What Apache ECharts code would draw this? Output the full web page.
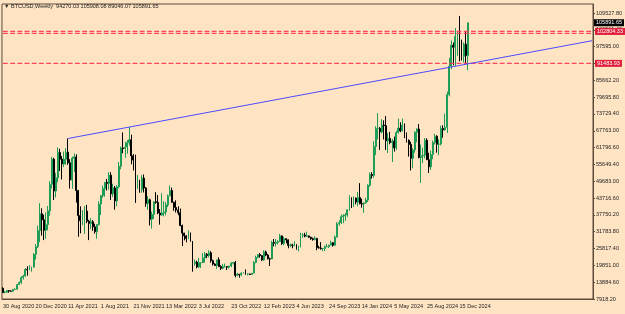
<!DOCTYPE html>
<html>
<head>
<meta charset="utf-8">
<script src="https://cdn.jsdelivr.net/npm/echarts@6.0.0/dist/echarts.min.js"></script>
<style>
    html, body { margin: 0; padding: 0; background: #ffe4c4; }
    #chart { width: 625px; height: 314px; }
</style>
</head>
<body>
<div id="chart"></div>
<script>
const symbolName = 'BTCUSD,Weekly';
const firstWeek = '2020-08-30';   // sunday of the first weekly bar
const shiftWeeks = 61;            // empty space right of the last bar

// weekly OHLC, 30 Aug 2020 .. 12 Jan 2025
const open = [
    11700,10250,10330,10930,10730,10660,11290,11360,13030,13760,15480,16050,18400,18200,19150,19250,23750,26450,
    32200,38150,36000,32300,34300,39200,48600,57500,46200,50900,59900,57500,55800,57500,60000,56200,50100,57800,58300,46400,37500,35700,35800,39100,35500,34700,35300,33500,31800,34300,41600,44600,47100,49300,48900,51800,45200,47300,42700,47700,55000,61500,61300,61800,63300,64400,58700,57200,49400,50100,46700,50800,
    47300,41800,43100,36200,37900,42400,42200,38400,37700,38400,38800,41300,44500,46400,42200,40400,39500,38500,34000,31300,30300,29400,29900,28400,20500,21000,19300,20800,20800,22500,23800,23300,24300,21500,20300,19800,21800,19400,18800,19400,19400,19200,19600,20600,20900,16300,16700,16500,17100,17100,16800,16800,
    16600,17100,20900,22700,23700,23300,21800,24600,23500,22200,22100,28000,27700,28000,28300,30300,27600,29300,28900,26900,27100,26900,27100,25900,26300,30500,30600,30200,30300,29800,29300,29000,29400,26100,26000,25800,25800,26500,26500,27000,27900,27000,29900,34500,35000,37100,37400,37700,39500,43800,41900,43700,42300,
    43900,41700,41600,42000,43000,48300,52100,51700,62000,68400,68400,67200,69600,69400,64000,64900,63400,63900,61500,66900,68500,67500,69600,66200,64200,62700,57800,60800,67100,68200,58100,58700,58900,64200,57300,54800,59200,63400,65600,62800,62900,68400,67900,68800,80400,90500,97900,97200,101000,101500,95200,94000,98300,94270.03
];
const high = [
    12090,10800,11100,10990,10960,11500,11720,13200,14100,15960,16480,18900,19500,19900,19400,24200,27400,34000,
    41900,40100,37800,38600,40900,49700,58300,58000,52600,61700,61200,58600,60200,61400,64850,57500,58400,59500,59200,46600,40800,39400,40900,41300,36000,36600,35900,34600,34500,42600,44800,48100,49400,50500,52900,52900,48800,48000,48300,56500,62000,67000,63700,64300,69000,66200,59300,59100,51900,50200,51900,52100,
    47600,44400,43500,38900,42500,45800,44800,39800,45400,42600,42300,45000,48200,47400,42400,42900,40800,40000,34300,31400,30600,32300,31500,28500,21900,21500,22500,21000,24200,24600,24200,25200,24900,21900,20600,21800,22700,19900,20300,20500,19600,19700,21000,21000,21400,17200,16800,17400,17400,18400,17000,16900,
    17200,21400,23300,23800,24200,23400,25200,25100,23900,22600,28500,29200,29200,28800,31000,30500,30000,29500,29000,27600,27500,28400,27400,26800,31400,31300,31400,31800,30400,30000,29700,30200,29600,26800,28100,26000,26900,27500,27200,28600,28000,30400,35200,35900,37900,38000,38400,39800,44700,44000,44300,43900,45900,
    49000,43500,42200,43800,48600,52800,52900,63900,69200,73800,68900,71700,71300,72800,66800,67200,64700,65500,67600,71900,70600,71900,70200,67000,64500,63700,61400,67400,68400,70000,62700,61600,65000,64900,59800,60600,64100,66500,66000,64500,69400,69500,73600,81500,93400,99600,98900,104000,102500,108300,99900,98900,102700,105908.08
];
const low = [
    10000,9880,10200,10140,10500,10530,11200,11350,12960,13200,14800,15800,16200,18100,17600,19000,21900,26000,
    28100,30400,28800,29300,32300,37400,47100,43000,43900,49300,53300,50300,54700,55500,55500,47100,47000,52900,42100,30000,31200,34100,31000,34800,28800,32700,32100,31100,29300,34000,37700,43800,44200,46400,46700,43000,44100,39600,40800,47200,53900,59600,58000,59400,62300,55700,53500,42000,47000,45600,45600,45700,
    40600,39600,34000,32900,36300,41700,38000,34300,37500,37200,37600,40500,44400,42100,39200,38600,37600,33700,26700,28700,28000,29300,28200,17600,19700,18800,18900,18900,20700,20800,22400,22700,20800,19800,19600,18600,19300,18200,18500,19100,18200,18700,19200,20100,15600,16000,15500,16000,16900,16500,16300,16400,
    16500,17100,20600,22300,22600,21400,21400,23100,21900,19600,22000,26600,26500,27300,28200,27100,26900,27700,25900,26300,25900,26600,25400,24800,26200,29600,29800,29900,29600,28900,28600,28700,25200,25800,25400,24900,24900,26300,26000,26900,26500,26800,29700,33900,34500,34800,35600,37100,39200,40200,40600,41500,40800,
    41500,40300,38500,41800,42300,47700,50600,50900,59000,64500,60800,66600,64500,60800,59700,62800,56500,60200,60800,66600,67100,67400,65000,63400,58400,53500,54300,59800,63500,57800,49100,56100,57800,57200,52600,53700,57500,62700,59800,58900,62400,65100,67600,66800,79800,89400,90800,90500,94200,92200,92500,91800,91200,89046.07
];
const close = [
    10250,10330,10930,10730,10660,11290,11360,13030,13760,15480,16050,18400,18200,19150,19250,23750,26450,32200,
    38150,36000,32300,34300,39200,48600,57500,46200,50900,59900,57500,55800,57500,60000,56200,50100,57800,58300,46400,37500,35700,35800,39100,35500,34700,35300,33500,31800,34300,41600,44600,47100,49300,48900,51800,45200,47300,42700,47700,55000,61500,61300,61800,63300,64400,58700,57200,49400,50100,46700,50800,47300,
    41800,43100,36200,37900,42400,42200,38400,37700,38400,38800,41300,44500,46400,42200,40400,39500,38500,34000,31300,30300,29400,29900,28400,20500,21000,19300,20800,20800,22500,23800,23300,24300,21500,20300,19800,21800,19400,18800,19400,19400,19200,19600,20600,20900,16300,16700,16500,17100,17100,16800,16800,16600,
    17100,20900,22700,23700,23300,21800,24600,23500,22200,22100,28000,27700,28000,28300,30300,27600,29300,28900,26900,27100,26900,27100,25900,26300,30500,30600,30200,30300,29800,29300,29000,29400,26100,26000,25800,25800,26500,26500,27000,27900,27000,29900,34500,35000,37100,37400,37700,39500,43800,41900,43700,42300,43900,
    41700,41600,42000,43000,48300,52100,51700,62000,68400,68400,67200,69600,69400,64000,64900,63400,63900,61500,66900,68500,67500,69600,66200,64200,62700,57800,60800,67100,68200,58100,58700,58900,64200,57300,54800,59200,63400,65600,62800,62900,68400,67900,68800,80400,90500,97900,97200,101000,101500,95200,94000,98300,94270.03,105891.65
];

// price scale labels (MT4 style, two of them sit under the price tags)
const yMin = 7918.2;
const yStep = 5966.4;
const yMax = 112540;
const yLabels = ['7918.20','13884.60','19851.00','25817.40','31783.80','37750.20','43716.60','49683.00','55649.40',
    '61796.60','67763.00','73729.40','79695.80','85662.20','91628.60','97595.00','103561.40','109527.80'];

// drawn objects: horizontal levels (tagged or not) and a trend line
const levels = [102804.33, 102100, 91483.93];
const levelTagged = [true, false, true];
const trendFrom = ['2021-04-11', 64854];
const trendTo = ['2021-11-07', 68900];

const months = ['Jan','Feb','Mar','Apr','May','Jun','Jul','Aug','Sep','Oct','Nov','Dec'];
const t0 = Date.parse(firstWeek + 'T00:00:00Z');
const WEEK = 7 * 86400000;
const nBars = open.length;
const cats = [];
for (let i = 0; i < nBars + shiftWeeks; i++) {
    const d = new Date(t0 + i * WEEK);
    cats.push(d.getUTCDate() + ' ' + months[d.getUTCMonth()] + ' ' + d.getUTCFullYear());
}
const weekIndex = (s) => Math.round((Date.parse(s + 'T00:00:00Z') - t0) / WEEK);

const candles = open.map((o, i) => [o, close[i], low[i], high[i]]);

// trend line through the two highs, extended to the right edge
const ia = weekIndex(trendFrom[0]), ib = weekIndex(trendTo[0]);
const slope = (trendTo[1] - trendFrom[1]) / (ib - ia);
const iEnd = cats.length - 1;
const trendData = [[ia, trendFrom[1]], [ib, trendTo[1]], [iEnd, trendFrom[1] + slope * (iEnd - ia)]];

const fontFamily = 'Liberation Sans, Arial, sans-serif';
const frameColor = '#5c4b3b';
const levelColor = '#ff3355';
const fmt = (v) => v.toFixed(2);

const chart = echarts.init(document.getElementById('chart'));

const tagLabel = (value, bg, distance) => ({
    show: true,
    distance: distance,
    formatter: () => fmt(value),
    backgroundColor: bg,
    color: '#fff',
    padding: [1, 2, 0, 2],
    fontSize: 5.5,
    fontFamily: fontFamily
});

const levelSeries = levels.map((v, k) => ({
    type: 'line',
    data: [[0, v], [iEnd, v]],
    symbol: 'none',
    silent: true,
    z: 3,
    color: levelColor,
    itemStyle: { color: levelColor },
    lineStyle: { color: levelColor, type: 'dashed', dashOffset: 0, width: 1.2, opacity: 0.9 },
    endLabel: levelTagged[k] ? tagLabel(v, '#e0203c', 3) : { show: false }
}));

const option = {
    backgroundColor: '#ffe4c4',
    animation: false,
    title: {
        text: '\u25BC ' + symbolName + '  ' + [open, high, low, close].map(a => fmt(a[nBars - 1])).join(' '),
        left: 4,
        top: 3,
        padding: 0,
        textStyle: { fontSize: 5.5, fontWeight: 'normal', color: '#222', fontFamily: fontFamily }
    },
    grid: {
        left: 1,
        right: 29,
        top: 4,
        bottom: 15,
        show: true,
        borderColor: frameColor,
        borderWidth: 1
    },
    xAxis: {
        type: 'category',
        data: cats,
        boundaryGap: true,
        axisLine: { lineStyle: { color: frameColor } },
        axisTick: { interval: 15, alignWithLabel: true, length: 2, lineStyle: { color: frameColor } },
        axisLabel: {
            interval: 15,
            align: 'left',
            margin: 4,
            fontSize: 5.5,
            color: '#222',
            fontFamily: fontFamily,
            formatter: (v, i) => (i < nBars ? v : '')
        },
        splitLine: { show: false }
    },
    yAxis: {
        type: 'value',
        position: 'right',
        min: yMin,
        max: yMax,
        interval: yStep,
        axisLine: { show: true, lineStyle: { color: frameColor } },
        axisTick: { show: true, length: 2, lineStyle: { color: frameColor } },
        splitLine: { show: false },
        axisLabel: {
            margin: 3,
            fontSize: 5.5,
            color: '#222',
            fontFamily: fontFamily,
            showMaxLabel: false,
            formatter: (v) => {
                const i = Math.round((v - yMin) / yStep);
                return Math.abs(v - (yMin + i * yStep)) < 1 && yLabels[i] ? yLabels[i] : '';
            }
        }
    },
    series: [
        {
            type: 'candlestick',
            data: candles,
            barWidth: 1.4,
            itemStyle: {
                color: '#1f9d57',
                color0: '#000000',
                borderColor: '#1f9d57',
                borderColor0: '#000000',
                borderWidth: 1
            }
        },
        ...levelSeries,
        {
            type: 'line',
            data: trendData,
            symbol: 'none',
            silent: true,
            z: 4,
            lineStyle: { color: '#4b4bff', width: 1 },
            // current price tag on the scale, no line drawn
            markLine: {
                silent: true,
                symbol: 'none',
                lineStyle: { width: 0, color: 'rgba(0,0,0,0)' },
                data: [{ yAxis: close[nBars - 1], label: Object.assign(tagLabel(close[nBars - 1], '#000000', 1), { position: 'end' }) }]
            }
        }
    ]
};

chart.setOption(option);
</script>
</body>
</html>
